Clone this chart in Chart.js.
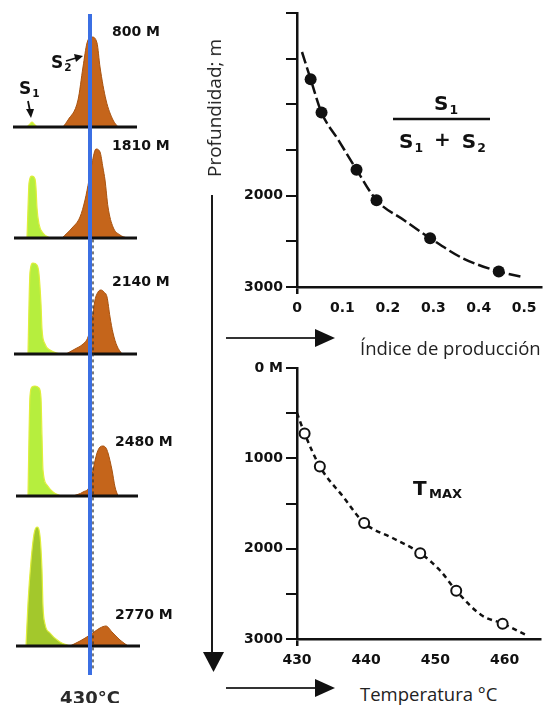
<!DOCTYPE html>
<html lang="es">
<head>
<meta charset="utf-8">
<title>Pirólisis: S1, S2, índice de producción y Tmax</title>
<script src="https://cdn.jsdelivr.net/npm/chart.js@4.4.1/dist/chart.umd.min.js"></script>
<style>
  html, body { margin: 0; padding: 0; background: #fff; }
  #stage { position: relative; width: 547px; height: 706px; overflow: hidden; background: #fff; }
  #stage canvas { position: absolute; }
  #stage svg { position: absolute; left: 0; top: 0; }
  .txt { position: absolute; white-space: nowrap; color: #111; }
  .bold { font-family: "DejaVu Sans", sans-serif; font-weight: bold; }
  .sans { font-family: "Open Sans", sans-serif; color: #222; }
  .sub { font-size: 0.62em; position: relative; top: 0.32em; margin-left: 1px; }
</style>
</head>
<body>
<div id="stage">
  <svg width="547" height="706" viewBox="0 0 547 706">
    <!-- depth arrow -->
    <line x1="212" y1="195" x2="212" y2="655" stroke="#1a1a1a" stroke-width="2"/>
    <polygon points="203,652 224,652 213.5,672" fill="#111"/>
    <!-- axis arrows -->
    <line x1="226" y1="338" x2="318" y2="338" stroke="#333" stroke-width="2"/>
    <polygon points="315,329 315,347 335,338" fill="#111"/>
    <line x1="226" y1="688" x2="318" y2="688" stroke="#333" stroke-width="2"/>
    <polygon points="315,679 315,697 335,688" fill="#111"/>
    <!-- S1 / S2 pointers -->
    <line x1="28" y1="101" x2="30" y2="111" stroke="#111" stroke-width="1.8"/>
    <polygon points="26,109 34,109 31,118" fill="#111"/>
    <line x1="66" y1="61" x2="76" y2="58" stroke="#111" stroke-width="1.8"/>
    <polygon points="74,54 76,62 83,56" fill="#111"/>
    <!-- fraction bar -->
    <line x1="393" y1="119" x2="490" y2="119" stroke="#111" stroke-width="2.5"/>
  </svg>
</div>
<script>
// ---------------- data ----------------
// Sample depths shown beside each pyrogram
const sampleLabels = ['800 M', '1810 M', '2140 M', '2480 M', '2770 M'];

// S1 peak traces (temperature °C, detector signal)
const s1Temp = [
  [304, 310, 314, 318, 324],
  [304, 306, 308, 314, 320, 322, 324, 328, 336, 350],
  [306, 308, 310, 316, 324, 328, 332, 334, 340, 350, 370],
  [306, 308, 310, 314, 320, 328, 332, 334, 336, 344, 356, 372],
  [302, 306, 312, 318, 324, 330, 334, 336, 340, 350, 370, 390]
];
const s1Signal = [
  [0, 3, 5, 3, 0],
  [0, 30, 55, 62, 59, 50, 30, 14, 5, 0],
  [0, 50, 82, 91, 89, 80, 50, 25, 10, 4, 0],
  [0, 60, 100, 109, 110, 108, 98, 60, 26, 11, 4, 0],
  [0, 43, 85, 112, 119, 110, 76, 40, 22, 13, 4, 0]
];

// S2 peak traces (temperature °C, detector signal)
const s2Temp = [
  [376, 386, 406, 416, 424, 434, 444, 450, 462, 476, 486],
  [374, 394, 410, 420, 428, 434, 442, 450, 456, 460, 466, 476, 490, 504],
  [382, 400, 416, 426, 434, 440, 446, 452, 458, 464, 470, 476, 484, 494],
  [396, 416, 430, 436, 444, 450, 456, 462, 466, 474, 480, 486],
  [390, 410, 430, 450, 462, 474, 490, 506]
];
const s2Signal = [
  [0, 7, 27, 60, 84, 90, 84, 60, 27, 7, 0],
  [0, 10, 21, 38, 58, 75, 89, 86, 70, 58, 31, 11, 3, 0],
  [0, 5, 10, 17, 34, 54, 62, 64, 62, 57, 37, 21, 8, 0],
  [0, 4, 11, 26, 43, 49, 50, 48, 43, 26, 9, 0],
  [0, 5, 11, 18, 20, 14, 6, 0]
];

// Temperature span of each pyrogram's baseline (°C)
const baselineStart = [276, 278, 278, 282, 282];
const baselineEnd = [524, 524, 524, 526, 530];

// Reference temperature marked across all pyrograms
const referenceTemp = 430;

// Production index and Tmax against depth
const sampleDepth = [725, 1090, 1715, 2050, 2465, 2830];
const productionIndex = [0.030, 0.054, 0.131, 0.175, 0.293, 0.444];
const tmaxValues = [431.1, 433.3, 439.7, 447.8, 453.0, 459.7];

// Hand-drawn trend curves
const piCurveIndex = [0.011, 0.030, 0.054, 0.091, 0.131, 0.175, 0.235, 0.293, 0.364, 0.444, 0.496];
const piCurveDepth = [427, 725, 1090, 1390, 1715, 2050, 2266, 2465, 2683, 2830, 2891];
const tmaxCurveTemp = [430.0, 431.1, 433.3, 436.7, 439.7, 443.8, 447.8, 450.6, 453.0, 456.6, 459.7, 463.1];
const tmaxCurveDepth = [498, 725, 1090, 1428, 1715, 1882, 2050, 2236, 2465, 2734, 2830, 2956];

// Axis ticks
const depthTicks = [0, 500, 1000, 1500, 2000, 2500, 3000];
const piDepthLabels = { 2000: '2000', 3000: '3000' };
const tmaxDepthLabels = { 0: '0 M', 1000: '1000', 2000: '2000', 3000: '3000' };
const piTicks = [0, 0.1, 0.2, 0.3, 0.4, 0.5];
const tempTicks = [430, 440, 450, 460];

// ---------------- layout & style ----------------
const stage = document.getElementById('stage');
const INK = '#111';
const ORANGE = '#c5651b';
const ORANGE_EDGE = '#a8520f';
const GREEN = ['#b6ee3e', '#b6ee3e', '#b6ee3e', '#b6ee3e', '#a3c82c'];
const GREEN_EDGE = '#e0ee3c';
const PANEL_BASE_Y = [127, 238, 354, 496, 646];
const LABEL_POS = [[112, 32], [112, 146], [112, 282], [115, 442], [115, 615]];
const T_MIN = 250, T_MAX = 650, LEFT_W = 200;
const SIG_TOP = 125, SIG_BOTTOM = -3;
const tickFont = { family: 'DejaVu Sans', weight: 'bold', size: 14 };

function pts(xs, ys) { return xs.map((x, i) => ({ x, y: ys[i] })); }

function makeCanvas(left, top, w, h) {
  const c = document.createElement('canvas');
  c.width = w; c.height = h;
  c.style.left = left + 'px'; c.style.top = top + 'px';
  c.style.width = w + 'px'; c.style.height = h + 'px';
  stage.appendChild(c);
  return c;
}

function addText(html, left, top, cls, size, extra) {
  const d = document.createElement('div');
  d.className = 'txt ' + cls;
  d.innerHTML = html;
  d.style.left = left + 'px';
  d.style.top = top + 'px';
  d.style.fontSize = size + 'px';
  d.style.lineHeight = size + 'px';
  if (extra) Object.assign(d.style, extra);
  stage.appendChild(d);
  return d;
}

const quiet = {
  responsive: false,
  animation: false,
  events: [],
  layout: { padding: 0 },
  plugins: { legend: { display: false }, tooltip: { enabled: false } }
};

// ---------------- pyrograms ----------------
sampleLabels.forEach((label, i) => {
  const c = makeCanvas(0, PANEL_BASE_Y[i] - SIG_TOP, LEFT_W, SIG_TOP - SIG_BOTTOM);
  new Chart(c, {
    type: 'line',
    data: {
      datasets: [
        { data: [{ x: baselineStart[i], y: 0 }, { x: baselineEnd[i], y: 0 }],
          borderColor: INK, borderWidth: 3, fill: false },
        { data: pts(s1Temp[i], s1Signal[i]), fill: 'origin',
          backgroundColor: GREEN[i], borderColor: GREEN_EDGE, borderWidth: 1.2 },
        { data: pts(s2Temp[i], s2Signal[i]), fill: 'origin',
          backgroundColor: ORANGE, borderColor: ORANGE_EDGE, borderWidth: 1 }
      ]
    },
    options: {
      ...quiet,
      elements: { point: { radius: 0 }, line: { cubicInterpolationMode: 'monotone' } },
      scales: {
        x: { type: 'linear', display: false, min: T_MIN, max: T_MAX },
        y: { type: 'linear', display: false, min: SIG_BOTTOM, max: SIG_TOP }
      }
    }
  });
  addText(label, LABEL_POS[i][0], LABEL_POS[i][1] - 8, 'bold', 14);
});

// Reference temperature line running through every pyrogram
(function () {
  const c = makeCanvas(0, 14, LEFT_W, 689);
  new Chart(c, {
    type: 'line',
    data: {
      datasets: [
        { data: [{ x: referenceTemp, y: 0 }, { x: referenceTemp, y: 1 }],
          borderColor: '#3b6fe3', borderWidth: 4 },
        { data: [{ x: referenceTemp + 6, y: 0.01 }, { x: referenceTemp + 6, y: 0.66 }],
          borderColor: '#333', borderWidth: 1.3, borderDash: [3, 3] }
      ]
    },
    options: {
      ...quiet,
      elements: { point: { radius: 0 } },
      scales: {
        x: {
          type: 'linear', min: T_MIN, max: T_MAX, position: 'bottom',
          grid: { display: false }, border: { display: false },
          afterBuildTicks: s => { s.ticks = [{ value: referenceTemp }]; },
          afterFit: s => { s.height = 28; s.paddingLeft = 0; s.paddingRight = 0; },
          ticks: { padding: 6, color: '#2a2a2a', maxRotation: 0,
                   font: { family: 'DejaVu Sans', weight: 'bold', size: 18 },
                   callback: v => v + '°C' }
        },
        y: { type: 'linear', display: false, min: 0, max: 1 }
      }
    }
  });
})();

// ---------------- depth plots ----------------
function depthPlot(box, cfg) {
  const c = makeCanvas(box.left, box.top, box.w, box.h);
  const xMin = cfg.xMin;
  return new Chart(c, {
    type: 'line',
    data: { datasets: cfg.datasets },
    options: {
      ...quiet,
      layout: { padding: { top: 10, left: 0, right: 0, bottom: 0 } },
      scales: {
        x: {
          type: 'linear', min: cfg.xMin, max: cfg.xMax, position: 'bottom',
          border: { display: true, color: INK, width: 2.5 },
          grid: {
            drawOnChartArea: false, drawTicks: true, tickLength: 7, lineWidth: 2.5,
            color: ctx => (ctx.tick && ctx.tick.value === xMin) ? INK : 'rgba(0,0,0,0)'
          },
          afterBuildTicks: s => { s.ticks = cfg.xTicks.map(v => ({ value: v })); },
          afterFit: s => { s.height = 37; s.paddingLeft = 0; s.paddingRight = 0; },
          ticks: { padding: 6, color: INK, font: tickFont, maxRotation: 0, autoSkip: false,
                   callback: v => String(v) }
        },
        y: {
          type: 'linear', min: 0, max: 3000, reverse: true,
          border: { display: true, color: INK, width: 2.5 },
          grid: { drawOnChartArea: false, drawTicks: true, tickLength: 11, lineWidth: 2, color: INK },
          afterBuildTicks: s => { s.ticks = depthTicks.map(v => ({ value: v })); },
          afterFit: s => { s.width = 77; s.paddingTop = 0; s.paddingBottom = 0; },
          ticks: { padding: 3, color: INK, font: tickFont, autoSkip: false,
                   callback: v => cfg.yLabels[v] || '' }
        }
      }
    }
  });
}

// Production index S1/(S1+S2)
depthPlot({ left: 220, top: 3, w: 327, h: 321 }, {
  xMin: 0, xMax: 0.537, xTicks: piTicks, yLabels: piDepthLabels,
  datasets: [
    { data: pts(productionIndex, sampleDepth), showLine: false,
      pointRadius: 6, pointBackgroundColor: INK, pointBorderWidth: 0 },
    { data: pts(piCurveIndex, piCurveDepth), pointRadius: 0, borderColor: INK,
      borderWidth: 2.5, borderDash: [12, 4], cubicInterpolationMode: 'monotone' }
  ]
});

// Tmax
depthPlot({ left: 220, top: 358, w: 327, h: 318 }, {
  xMin: 430, xMax: 465.1, xTicks: tempTicks, yLabels: tmaxDepthLabels,
  datasets: [
    { data: pts(tmaxValues, sampleDepth), showLine: false,
      pointRadius: 5, pointBackgroundColor: '#fff', pointBorderColor: INK, pointBorderWidth: 2 },
    { data: pts(tmaxCurveTemp, tmaxCurveDepth), pointRadius: 0, borderColor: INK,
      borderWidth: 2.5, borderDash: [5, 4], cubicInterpolationMode: 'monotone' }
  ]
});

// ---------------- annotations ----------------
addText('S<span class="sub">1</span>', 19, 80, 'bold', 17);
addText('S<span class="sub">2</span>', 51, 54, 'bold', 17);
addText('S<span class="sub">1</span>', 434, 93, 'bold', 20);
addText('S<span class="sub">1</span> <span style="position:relative;top:-2px;margin:0 4px">+</span> S<span class="sub">2</span>', 399, 131, 'bold', 20);
addText('T', 413, 478, 'bold', 20);
addText('MAX', 429, 486.5, 'bold', 13);
addText('Índice de producción', 360, 338, 'sans', 18.5, { lineHeight: '20px' });
addText('Temperatura °C', 360, 684, 'sans', 18.5, { lineHeight: '20px' });
addText('Profundidad; m', 214, 108, 'sans', 19,
  { lineHeight: '20px', transform: 'translate(-50%, -50%) rotate(-90deg)' });
</script>
</body>
</html>
